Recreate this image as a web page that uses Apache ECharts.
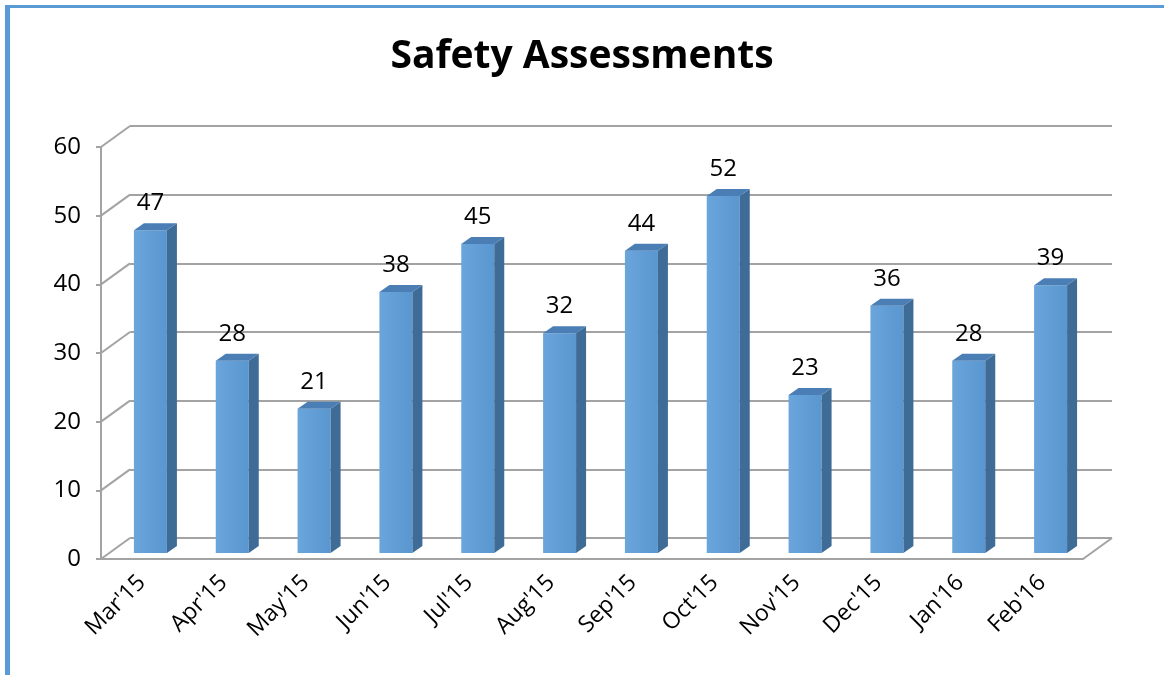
<!DOCTYPE html>
<html>
<head>
<meta charset="utf-8">
<script src="https://cdn.jsdelivr.net/npm/echarts@6/dist/echarts.min.js"></script>
<style>
  body { margin: 0; background: #fff; }
  #frame { position: absolute; left: 5px; top: 5px; width: 1159px; height: 670px;
    border-left: 5px solid #5b9bd5; border-top: 3px solid #5b9bd5; box-sizing: border-box; }
  #chart { position: absolute; left: 0; top: 0; width: 1164px; height: 675px; }
</style>
</head>
<body>
<div id="frame"></div>
<div id="chart"></div>
<script>
// data
const months = ["Mar'15", "Apr'15", "May'15", "Jun'15", "Jul'15", "Aug'15",
  "Sep'15", "Oct'15", "Nov'15", "Dec'15", "Jan'16", "Feb'16"]
const assessments = [47, 28, 21, 38, 45, 32, 44, 52, 23, 36, 28, 39]
const yTicks = [0, 10, 20, 30, 40, 50, 60]

// 3d look
const DX = 29, DY = 21
const GRID_COLOR = '#a3a3a3'
const FONT = '"Open Sans", sans-serif'

const chart = echarts.init(document.getElementById('chart'))

// bar faces
function renderBar(params, api) {
  const idx = api.value(0)
  const base = api.coord([idx, 0])
  const top = api.coord([idx, api.value(1)])
  const cx = base[0]
  const l = cx - 8, r = cx + 25
  const b = base[1] - 6, t = top[1] - 6
  const sx = 10, sy = 7
  return {
    type: 'group',
    children: [
      { type: 'rect', shape: { x: l, y: t, width: r - l, height: b - t },
        style: { fill: new echarts.graphic.LinearGradient(0, 0, 1, 0, [
          { offset: 0, color: '#6aa6dc' }, { offset: 1, color: '#5a96cf' }]) } },
      { type: 'polygon', shape: { points: [[r, t], [r + sx, t - sy], [r + sx, b - sy], [r, b]] },
        style: { fill: '#3f6b97' } },
      { type: 'polygon', shape: { points: [[l, t], [l + sx, t - sy], [r + sx, t - sy], [r, t]] },
        style: { fill: '#4a7eb4' } },
      { type: 'text', x: (l + r) / 2, y: t - 27,
        style: { text: String(api.value(1)), fill: '#000', font: '24px ' + FONT,
          align: 'center', verticalAlign: 'middle' } }
    ]
  }
}

// side diagonals linking front axis to back wall
function renderDiag(params, api) {
  const cs = params.coordSys
  const y = api.coord([0, api.value(0)])[1]
  const lines = [{ type: 'line', shape: { x1: cs.x, y1: y, x2: cs.x + DX, y2: y - DY },
    style: { stroke: GRID_COLOR, lineWidth: 2 } }]
  if (api.value(0) === 0) {
    lines.push({ type: 'line', shape: { x1: cs.x + cs.width, y1: y, x2: cs.x + cs.width + DX, y2: y - DY },
      style: { stroke: GRID_COLOR, lineWidth: 2 } })
  }
  return { type: 'group', children: lines }
}

chart.setOption({
  animation: false,
  title: {
    text: 'Safety Assessments', left: 'center', top: 32,
    textStyle: { fontFamily: FONT, fontSize: 39, fontWeight: 'bold', color: '#000' }
  },
  grid: [
    { left: 101, top: 147, width: 982, height: 412 },
    { left: 101 + DX, top: 147 - DY, width: 982, height: 412 }
  ],
  xAxis: [
    { type: 'category', data: months, gridIndex: 0,
      axisLine: { lineStyle: { color: GRID_COLOR, width: 2 } },
      axisTick: { length: 8, lineStyle: { color: GRID_COLOR, width: 2 } },
      axisLabel: { rotate: 45, margin: 20, color: '#000', fontFamily: FONT, fontSize: 23, interval: 0 } },
    { type: 'category', data: months, gridIndex: 1, show: false }
  ],
  yAxis: [
    { type: 'value', gridIndex: 0, min: 0, max: 60, interval: 10,
      axisLine: { show: true, lineStyle: { color: GRID_COLOR, width: 2 } },
      axisTick: { show: true, length: 5, lineStyle: { color: GRID_COLOR, width: 2 } },
      splitLine: { show: false },
      axisLabel: { margin: 20, color: '#000', fontFamily: FONT, fontSize: 24 } },
    { type: 'value', gridIndex: 1, min: 0, max: 60, interval: 10,
      axisLine: { show: false }, axisTick: { show: false }, axisLabel: { show: false },
      splitLine: { show: true, lineStyle: { color: GRID_COLOR, width: 2 } } }
  ],
  series: [
    { type: 'custom', xAxisIndex: 0, yAxisIndex: 0, renderItem: renderDiag,
      data: yTicks.map(v => [v]), encode: { y: 0 }, z: 1 },
    { type: 'custom', xAxisIndex: 0, yAxisIndex: 0, renderItem: renderBar,
      data: assessments.map((v, i) => [i, v]), encode: { x: 0, y: 1 }, z: 5 }
  ]
})
</script>
</body>
</html>
